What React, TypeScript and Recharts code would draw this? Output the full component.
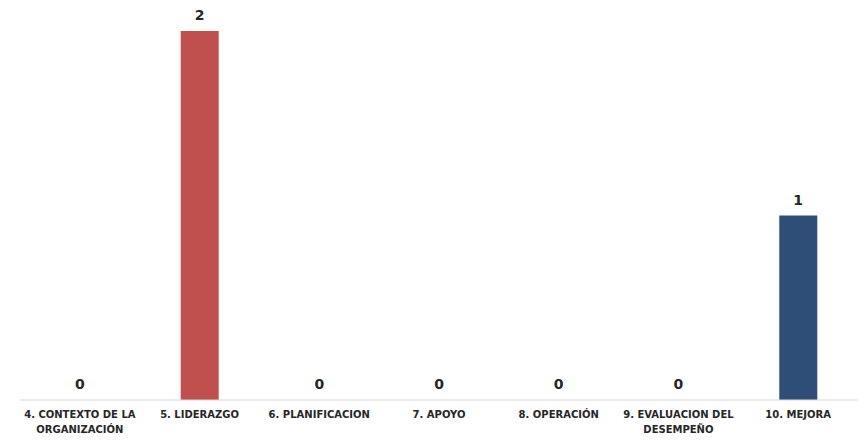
import { ComposedChart, Bar, Line, XAxis, YAxis, Cell, LabelList } from "recharts"

// each category label is kept as its wrapped lines
const categoryLines = [
  ["4. CONTEXTO DE LA", "ORGANIZACIÓN"],
  ["5. LIDERAZGO"],
  ["6. PLANIFICACION"],
  ["7. APOYO"],
  ["8. OPERACIÓN"],
  ["9. EVALUACION DEL", "DESEMPEÑO"],
  ["10. MEJORA"],
]
const counts = [0, 2, 0, 0, 0, 0, 1]
const barColors = ["#c0504d", "#c0504d", "#c0504d", "#c0504d", "#c0504d", "#c0504d", "#2e4e78"]

const data = categoryLines.map((lines, i) => ({ name: lines.join(" "), value: counts[i] }))

const FONT = "'DejaVu Sans', sans-serif"

function CategoryTick(props: any) {
  const { x, y, index } = props
  const lines = categoryLines[index] || []
  return (
    <text
      x={x}
      y={y + 10}
      textAnchor="middle"
      fontSize={10}
      fontWeight="bold"
      fill="#262626"
      fontFamily={FONT}
    >
      {lines.map((line, i) => (
        <tspan key={i} x={x} dy={i === 0 ? 0 : 15}>
          {line}
        </tspan>
      ))}
    </text>
  )
}

export default function App() {
  return (
    <div style={{ position: "fixed", top: 0, left: 0, width: 860, height: 442, background: "#fff" }}>
      <ComposedChart
        width={860}
        height={442}
        data={data}
        margin={{ top: 31, right: 2, bottom: 0, left: 20 }}
      >
        <XAxis
          dataKey="name"
          axisLine={{ stroke: "#d9d9d9" }}
          tickLine={false}
          interval={0}
          height={42}
          tick={<CategoryTick />}
        />
        <YAxis hide domain={[0, 2]} />
        <Bar dataKey="value" barSize={38} isAnimationActive={false}>
          {data.map((d, i) => (
            <Cell key={d.name} fill={barColors[i]} />
          ))}
        </Bar>
        {/* invisible series carrying the value labels, so zero bars get one too */}
        <Line
          dataKey="value"
          stroke="none"
          dot={false}
          activeDot={false}
          legendType="none"
          isAnimationActive={false}
        >
          <LabelList
            dataKey="value"
            position="top"
            offset={11}
            fill="#262626"
            fontSize={14}
            fontWeight="bold"
            fontFamily={FONT}
          />
        </Line>
      </ComposedChart>
    </div>
  )
}
